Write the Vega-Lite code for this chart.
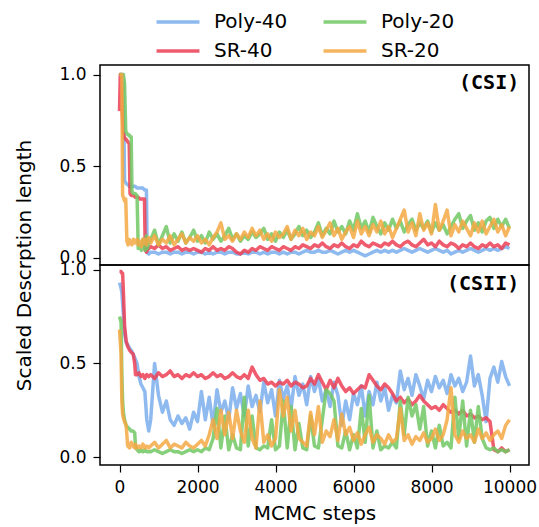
{
  "$schema": "https://vega.github.io/schema/vega-lite/v6.json",
  "padding": {"left": 14, "top": 5, "right": 5, "bottom": 0},
  "spacing": 0,
  "bounds": "flush",
  "config": {
    "font": "DejaVu Sans",
    "view": {"stroke": "black", "strokeWidth": 1.5},
    "axis": {"grid": false, "domain": false, "tickColor": "black", "tickWidth": 1.2, "tickSize": 7, "labelColor": "black", "titleColor": "black", "labelFontSize": 17, "titleFontSize": 20, "titleFontWeight": "normal", "labelPadding": 7, "labelFont": "DejaVu Sans", "titleFont": "DejaVu Sans"}
  },
  "datasets": {
    "csi": [
      {"step":0,"Poly-40":1.0,"Poly-20":1.0,"SR-40":0.8,"SR-20":1.0},
      {"step":20,"Poly-40":1.0,"Poly-20":1.0,"SR-40":1.0,"SR-20":1.0},
      {"step":60,"Poly-40":1.0,"Poly-20":1.0,"SR-40":0.85,"SR-20":1.0},
      {"step":80,"Poly-40":1.0,"Poly-20":1.0,"SR-40":0.75,"SR-20":0.34},
      {"step":100,"Poly-40":0.95,"Poly-20":1.0,"SR-40":0.68,"SR-20":0.33},
      {"step":130,"Poly-40":0.42,"Poly-20":0.95,"SR-40":0.65,"SR-20":0.31},
      {"step":160,"Poly-40":0.41,"Poly-20":0.69,"SR-40":0.65,"SR-20":0.32},
      {"step":190,"Poly-40":0.4,"Poly-20":0.68,"SR-40":0.64,"SR-20":0.09},
      {"step":220,"Poly-40":0.4,"Poly-20":0.67,"SR-40":0.63,"SR-20":0.07},
      {"step":250,"Poly-40":0.39,"Poly-20":0.67,"SR-40":0.62,"SR-20":0.1},
      {"step":270,"Poly-40":0.39,"Poly-20":0.66,"SR-40":0.35,"SR-20":0.08},
      {"step":300,"Poly-40":0.39,"Poly-20":0.66,"SR-40":0.34,"SR-20":0.09},
      {"step":320,"Poly-40":0.39,"Poly-20":0.36,"SR-40":0.34,"SR-20":0.07},
      {"step":360,"Poly-40":0.39,"Poly-20":0.35,"SR-40":0.34,"SR-20":0.1},
      {"step":400,"Poly-40":0.39,"Poly-20":0.35,"SR-40":0.33,"SR-20":0.08},
      {"step":450,"Poly-40":0.38,"Poly-20":0.34,"SR-40":0.33,"SR-20":0.1},
      {"step":480,"Poly-40":0.38,"Poly-20":0.05,"SR-40":0.33,"SR-20":0.07},
      {"step":520,"Poly-40":0.38,"Poly-20":0.07,"SR-40":0.32,"SR-20":0.09},
      {"step":560,"Poly-40":0.38,"Poly-20":0.04,"SR-40":0.32,"SR-20":0.06},
      {"step":600,"Poly-40":0.38,"Poly-20":0.1,"SR-40":0.32,"SR-20":0.1},
      {"step":640,"Poly-40":0.37,"Poly-20":0.06,"SR-40":0.32,"SR-20":0.08},
      {"step":660,"Poly-40":0.37,"Poly-20":0.04,"SR-40":0.04,"SR-20":0.1},
      {"step":690,"Poly-40":0.37,"Poly-20":0.12,"SR-40":0.03,"SR-20":0.07},
      {"step":710,"Poly-40":0.03,"Poly-20":0.05,"SR-40":0.04,"SR-20":0.09},
      {"step":750,"Poly-40":0.02,"Poly-20":0.08,"SR-40":0.05,"SR-20":0.11},
      {"step":800,"Poly-40":0.03,"Poly-20":0.1,"SR-40":0.06,"SR-20":0.08},
      {"step":900,"Poly-40":0.03,"Poly-20":0.15,"SR-40":0.05,"SR-20":0.12},
      {"step":1000,"Poly-40":0.02,"Poly-20":0.07,"SR-40":0.07,"SR-20":0.07},
      {"step":1100,"Poly-40":0.03,"Poly-20":0.12,"SR-40":0.05,"SR-20":0.1},
      {"step":1200,"Poly-40":0.03,"Poly-20":0.17,"SR-40":0.06,"SR-20":0.08},
      {"step":1300,"Poly-40":0.02,"Poly-20":0.08,"SR-40":0.04,"SR-20":0.12},
      {"step":1400,"Poly-40":0.03,"Poly-20":0.13,"SR-40":0.05,"SR-20":0.07},
      {"step":1500,"Poly-40":0.03,"Poly-20":0.09,"SR-40":0.06,"SR-20":0.1},
      {"step":1600,"Poly-40":0.02,"Poly-20":0.14,"SR-40":0.04,"SR-20":0.13},
      {"step":1700,"Poly-40":0.03,"Poly-20":0.08,"SR-40":0.05,"SR-20":0.08},
      {"step":1800,"Poly-40":0.03,"Poly-20":0.11,"SR-40":0.04,"SR-20":0.11},
      {"step":1900,"Poly-40":0.02,"Poly-20":0.15,"SR-40":0.05,"SR-20":0.09},
      {"step":2000,"Poly-40":0.03,"Poly-20":0.09,"SR-40":0.04,"SR-20":0.12},
      {"step":2100,"Poly-40":0.03,"Poly-20":0.12,"SR-40":0.03,"SR-20":0.08},
      {"step":2200,"Poly-40":0.02,"Poly-20":0.08,"SR-40":0.05,"SR-20":0.1},
      {"step":2300,"Poly-40":0.03,"Poly-20":0.14,"SR-40":0.04,"SR-20":0.07},
      {"step":2400,"Poly-40":0.02,"Poly-20":0.1,"SR-40":0.06,"SR-20":0.11},
      {"step":2500,"Poly-40":0.03,"Poly-20":0.13,"SR-40":0.04,"SR-20":0.14},
      {"step":2600,"Poly-40":0.03,"Poly-20":0.09,"SR-40":0.05,"SR-20":0.19},
      {"step":2700,"Poly-40":0.02,"Poly-20":0.12,"SR-40":0.04,"SR-20":0.1},
      {"step":2800,"Poly-40":0.03,"Poly-20":0.16,"SR-40":0.06,"SR-20":0.12},
      {"step":2900,"Poly-40":0.03,"Poly-20":0.1,"SR-40":0.05,"SR-20":0.09},
      {"step":3000,"Poly-40":0.02,"Poly-20":0.13,"SR-40":0.03,"SR-20":0.13},
      {"step":3100,"Poly-40":0.02,"Poly-20":0.09,"SR-40":0.02,"SR-20":0.1},
      {"step":3200,"Poly-40":0.03,"Poly-20":0.12,"SR-40":0.04,"SR-20":0.14},
      {"step":3300,"Poly-40":0.02,"Poly-20":0.1,"SR-40":0.03,"SR-20":0.11},
      {"step":3400,"Poly-40":0.03,"Poly-20":0.14,"SR-40":0.05,"SR-20":0.16},
      {"step":3500,"Poly-40":0.03,"Poly-20":0.11,"SR-40":0.04,"SR-20":0.12},
      {"step":3600,"Poly-40":0.02,"Poly-20":0.13,"SR-40":0.06,"SR-20":0.15},
      {"step":3700,"Poly-40":0.03,"Poly-20":0.16,"SR-40":0.05,"SR-20":0.1},
      {"step":3800,"Poly-40":0.02,"Poly-20":0.1,"SR-40":0.04,"SR-20":0.13},
      {"step":3900,"Poly-40":0.03,"Poly-20":0.13,"SR-40":0.06,"SR-20":0.09},
      {"step":4000,"Poly-40":0.03,"Poly-20":0.09,"SR-40":0.05,"SR-20":0.14},
      {"step":4100,"Poly-40":0.02,"Poly-20":0.14,"SR-40":0.04,"SR-20":0.11},
      {"step":4200,"Poly-40":0.03,"Poly-20":0.11,"SR-40":0.06,"SR-20":0.13},
      {"step":4300,"Poly-40":0.02,"Poly-20":0.15,"SR-40":0.05,"SR-20":0.17},
      {"step":4400,"Poly-40":0.03,"Poly-20":0.1,"SR-40":0.04,"SR-20":0.1},
      {"step":4500,"Poly-40":0.03,"Poly-20":0.13,"SR-40":0.06,"SR-20":0.15},
      {"step":4600,"Poly-40":0.02,"Poly-20":0.17,"SR-40":0.05,"SR-20":0.12},
      {"step":4700,"Poly-40":0.03,"Poly-20":0.12,"SR-40":0.07,"SR-20":0.16},
      {"step":4800,"Poly-40":0.04,"Poly-20":0.15,"SR-40":0.06,"SR-20":0.1},
      {"step":4900,"Poly-40":0.03,"Poly-20":0.11,"SR-40":0.05,"SR-20":0.14},
      {"step":5000,"Poly-40":0.03,"Poly-20":0.14,"SR-40":0.07,"SR-20":0.12},
      {"step":5100,"Poly-40":0.04,"Poly-20":0.19,"SR-40":0.06,"SR-20":0.17},
      {"step":5200,"Poly-40":0.03,"Poly-20":0.12,"SR-40":0.08,"SR-20":0.11},
      {"step":5300,"Poly-40":0.03,"Poly-20":0.16,"SR-40":0.06,"SR-20":0.15},
      {"step":5400,"Poly-40":0.04,"Poly-20":0.13,"SR-40":0.05,"SR-20":0.19},
      {"step":5500,"Poly-40":0.03,"Poly-20":0.2,"SR-40":0.07,"SR-20":0.12},
      {"step":5600,"Poly-40":0.02,"Poly-20":0.14,"SR-40":0.06,"SR-20":0.16},
      {"step":5700,"Poly-40":0.03,"Poly-20":0.17,"SR-40":0.08,"SR-20":0.1},
      {"step":5800,"Poly-40":0.04,"Poly-20":0.13,"SR-40":0.06,"SR-20":0.14},
      {"step":5900,"Poly-40":0.03,"Poly-20":0.2,"SR-40":0.05,"SR-20":0.17},
      {"step":6000,"Poly-40":0.04,"Poly-20":0.15,"SR-40":0.07,"SR-20":0.11},
      {"step":6100,"Poly-40":0.03,"Poly-20":0.24,"SR-40":0.06,"SR-20":0.2},
      {"step":6200,"Poly-40":0.02,"Poly-20":0.16,"SR-40":0.09,"SR-20":0.13},
      {"step":6300,"Poly-40":0.01,"Poly-20":0.2,"SR-40":0.07,"SR-20":0.17},
      {"step":6400,"Poly-40":0.02,"Poly-20":0.14,"SR-40":0.06,"SR-20":0.12},
      {"step":6500,"Poly-40":0.03,"Poly-20":0.22,"SR-40":0.08,"SR-20":0.18},
      {"step":6600,"Poly-40":0.04,"Poly-20":0.17,"SR-40":0.07,"SR-20":0.14},
      {"step":6700,"Poly-40":0.03,"Poly-20":0.13,"SR-40":0.06,"SR-20":0.2},
      {"step":6800,"Poly-40":0.04,"Poly-20":0.19,"SR-40":0.08,"SR-20":0.13},
      {"step":6900,"Poly-40":0.03,"Poly-20":0.15,"SR-40":0.07,"SR-20":0.17},
      {"step":7000,"Poly-40":0.04,"Poly-20":0.21,"SR-40":0.09,"SR-20":0.11},
      {"step":7100,"Poly-40":0.03,"Poly-20":0.16,"SR-40":0.07,"SR-20":0.16},
      {"step":7200,"Poly-40":0.04,"Poly-20":0.2,"SR-40":0.06,"SR-20":0.21},
      {"step":7300,"Poly-40":0.05,"Poly-20":0.14,"SR-40":0.08,"SR-20":0.26},
      {"step":7400,"Poly-40":0.04,"Poly-20":0.18,"SR-40":0.09,"SR-20":0.14},
      {"step":7500,"Poly-40":0.03,"Poly-20":0.21,"SR-40":0.07,"SR-20":0.19},
      {"step":7600,"Poly-40":0.04,"Poly-20":0.15,"SR-40":0.06,"SR-20":0.12},
      {"step":7700,"Poly-40":0.05,"Poly-20":0.19,"SR-40":0.08,"SR-20":0.24},
      {"step":7800,"Poly-40":0.04,"Poly-20":0.16,"SR-40":0.1,"SR-20":0.15},
      {"step":7900,"Poly-40":0.03,"Poly-20":0.2,"SR-40":0.07,"SR-20":0.19},
      {"step":8000,"Poly-40":0.04,"Poly-20":0.14,"SR-40":0.08,"SR-20":0.13},
      {"step":8100,"Poly-40":0.05,"Poly-20":0.19,"SR-40":0.06,"SR-20":0.29},
      {"step":8200,"Poly-40":0.04,"Poly-20":0.15,"SR-40":0.09,"SR-20":0.15},
      {"step":8300,"Poly-40":0.03,"Poly-20":0.18,"SR-40":0.07,"SR-20":0.2},
      {"step":8400,"Poly-40":0.04,"Poly-20":0.13,"SR-40":0.06,"SR-20":0.26},
      {"step":8500,"Poly-40":0.02,"Poly-20":0.17,"SR-40":0.08,"SR-20":0.12},
      {"step":8600,"Poly-40":0.03,"Poly-20":0.21,"SR-40":0.07,"SR-20":0.18},
      {"step":8700,"Poly-40":0.04,"Poly-20":0.24,"SR-40":0.05,"SR-20":0.14},
      {"step":8800,"Poly-40":0.03,"Poly-20":0.16,"SR-40":0.07,"SR-20":0.2},
      {"step":8900,"Poly-40":0.04,"Poly-20":0.2,"SR-40":0.06,"SR-20":0.16},
      {"step":9000,"Poly-40":0.05,"Poly-20":0.23,"SR-40":0.08,"SR-20":0.12},
      {"step":9100,"Poly-40":0.04,"Poly-20":0.15,"SR-40":0.06,"SR-20":0.19},
      {"step":9200,"Poly-40":0.03,"Poly-20":0.19,"SR-40":0.05,"SR-20":0.14},
      {"step":9300,"Poly-40":0.04,"Poly-20":0.14,"SR-40":0.07,"SR-20":0.2},
      {"step":9400,"Poly-40":0.05,"Poly-20":0.2,"SR-40":0.06,"SR-20":0.13},
      {"step":9500,"Poly-40":0.04,"Poly-20":0.22,"SR-40":0.08,"SR-20":0.17},
      {"step":9600,"Poly-40":0.05,"Poly-20":0.16,"SR-40":0.06,"SR-20":0.21},
      {"step":9700,"Poly-40":0.04,"Poly-20":0.21,"SR-40":0.07,"SR-20":0.14},
      {"step":9800,"Poly-40":0.05,"Poly-20":0.17,"SR-40":0.05,"SR-20":0.18},
      {"step":9900,"Poly-40":0.06,"Poly-20":0.21,"SR-40":0.08,"SR-20":0.12},
      {"step":10000,"Poly-40":0.05,"Poly-20":0.16,"SR-40":0.07,"SR-20":0.17}
    ],
    "csii": [
      {"step":0,"Poly-40":0.93,"Poly-20":0.75,"SR-40":0.99,"SR-20":0.68},
      {"step":40,"Poly-40":0.9,"Poly-20":0.72,"SR-40":0.99,"SR-20":0.55},
      {"step":60,"Poly-40":0.88,"Poly-20":0.45,"SR-40":0.98,"SR-20":0.3},
      {"step":80,"Poly-40":0.82,"Poly-20":0.3,"SR-40":0.98,"SR-20":0.23},
      {"step":100,"Poly-40":0.76,"Poly-20":0.24,"SR-40":0.88,"SR-20":0.21},
      {"step":130,"Poly-40":0.66,"Poly-20":0.2,"SR-40":0.7,"SR-20":0.19},
      {"step":170,"Poly-40":0.61,"Poly-20":0.17,"SR-40":0.62,"SR-20":0.17},
      {"step":210,"Poly-40":0.6,"Poly-20":0.16,"SR-40":0.59,"SR-20":0.06},
      {"step":260,"Poly-40":0.58,"Poly-20":0.15,"SR-40":0.57,"SR-20":0.05},
      {"step":300,"Poly-40":0.57,"Poly-20":0.14,"SR-40":0.56,"SR-20":0.08},
      {"step":350,"Poly-40":0.55,"Poly-20":0.14,"SR-40":0.55,"SR-20":0.06},
      {"step":390,"Poly-40":0.53,"Poly-20":0.13,"SR-40":0.5,"SR-20":0.05},
      {"step":410,"Poly-40":0.52,"Poly-20":0.06,"SR-40":0.44,"SR-20":0.07},
      {"step":450,"Poly-40":0.5,"Poly-20":0.04,"SR-40":0.44,"SR-20":0.05},
      {"step":500,"Poly-40":0.43,"Poly-20":0.03,"SR-40":0.45,"SR-20":0.06},
      {"step":550,"Poly-40":0.39,"Poly-20":0.04,"SR-40":0.43,"SR-20":0.05},
      {"step":600,"Poly-40":0.37,"Poly-20":0.03,"SR-40":0.44,"SR-20":0.07},
      {"step":650,"Poly-40":0.35,"Poly-20":0.04,"SR-40":0.42,"SR-20":0.05},
      {"step":700,"Poly-40":0.2,"Poly-20":0.03,"SR-40":0.44,"SR-20":0.06},
      {"step":750,"Poly-40":0.14,"Poly-20":0.03,"SR-40":0.43,"SR-20":0.05},
      {"step":800,"Poly-40":0.2,"Poly-20":0.03,"SR-40":0.44,"SR-20":0.06},
      {"step":900,"Poly-40":0.5,"Poly-20":0.04,"SR-40":0.42,"SR-20":0.08},
      {"step":1000,"Poly-40":0.33,"Poly-20":0.03,"SR-40":0.45,"SR-20":0.05},
      {"step":1100,"Poly-40":0.24,"Poly-20":0.02,"SR-40":0.43,"SR-20":0.07},
      {"step":1200,"Poly-40":0.3,"Poly-20":0.03,"SR-40":0.44,"SR-20":0.09},
      {"step":1300,"Poly-40":0.2,"Poly-20":0.04,"SR-40":0.46,"SR-20":0.05},
      {"step":1400,"Poly-40":0.17,"Poly-20":0.03,"SR-40":0.43,"SR-20":0.07},
      {"step":1500,"Poly-40":0.22,"Poly-20":0.03,"SR-40":0.44,"SR-20":0.06},
      {"step":1600,"Poly-40":0.18,"Poly-20":0.02,"SR-40":0.42,"SR-20":0.05},
      {"step":1700,"Poly-40":0.21,"Poly-20":0.03,"SR-40":0.44,"SR-20":0.08},
      {"step":1800,"Poly-40":0.15,"Poly-20":0.04,"SR-40":0.43,"SR-20":0.06},
      {"step":1900,"Poly-40":0.24,"Poly-20":0.03,"SR-40":0.45,"SR-20":0.05},
      {"step":2000,"Poly-40":0.19,"Poly-20":0.04,"SR-40":0.43,"SR-20":0.07},
      {"step":2100,"Poly-40":0.35,"Poly-20":0.03,"SR-40":0.44,"SR-20":0.09},
      {"step":2200,"Poly-40":0.2,"Poly-20":0.05,"SR-40":0.42,"SR-20":0.06},
      {"step":2300,"Poly-40":0.32,"Poly-20":0.04,"SR-40":0.43,"SR-20":0.12},
      {"step":2400,"Poly-40":0.17,"Poly-20":0.1,"SR-40":0.45,"SR-20":0.2},
      {"step":2500,"Poly-40":0.36,"Poly-20":0.26,"SR-40":0.43,"SR-20":0.1},
      {"step":2600,"Poly-40":0.24,"Poly-20":0.05,"SR-40":0.44,"SR-20":0.25},
      {"step":2700,"Poly-40":0.3,"Poly-20":0.22,"SR-40":0.42,"SR-20":0.12},
      {"step":2800,"Poly-40":0.2,"Poly-20":0.04,"SR-40":0.43,"SR-20":0.24},
      {"step":2900,"Poly-40":0.37,"Poly-20":0.12,"SR-40":0.45,"SR-20":0.1},
      {"step":3000,"Poly-40":0.26,"Poly-20":0.05,"SR-40":0.43,"SR-20":0.25},
      {"step":3100,"Poly-40":0.34,"Poly-20":0.04,"SR-40":0.42,"SR-20":0.14},
      {"step":3200,"Poly-40":0.22,"Poly-20":0.32,"SR-40":0.44,"SR-20":0.08},
      {"step":3300,"Poly-40":0.38,"Poly-20":0.06,"SR-40":0.42,"SR-20":0.25},
      {"step":3400,"Poly-40":0.27,"Poly-20":0.22,"SR-40":0.48,"SR-20":0.1},
      {"step":3500,"Poly-40":0.33,"Poly-20":0.05,"SR-40":0.44,"SR-20":0.05},
      {"step":3600,"Poly-40":0.24,"Poly-20":0.04,"SR-40":0.41,"SR-20":0.3},
      {"step":3700,"Poly-40":0.4,"Poly-20":0.06,"SR-40":0.42,"SR-20":0.08},
      {"step":3800,"Poly-40":0.29,"Poly-20":0.05,"SR-40":0.39,"SR-20":0.12},
      {"step":3900,"Poly-40":0.36,"Poly-20":0.2,"SR-40":0.4,"SR-20":0.06},
      {"step":4000,"Poly-40":0.22,"Poly-20":0.04,"SR-40":0.38,"SR-20":0.1},
      {"step":4100,"Poly-40":0.41,"Poly-20":0.06,"SR-40":0.4,"SR-20":0.36},
      {"step":4200,"Poly-40":0.31,"Poly-20":0.3,"SR-40":0.39,"SR-20":0.22},
      {"step":4300,"Poly-40":0.38,"Poly-20":0.05,"SR-40":0.41,"SR-20":0.32},
      {"step":4400,"Poly-40":0.26,"Poly-20":0.27,"SR-40":0.38,"SR-20":0.14},
      {"step":4500,"Poly-40":0.43,"Poly-20":0.04,"SR-40":0.4,"SR-20":0.25},
      {"step":4600,"Poly-40":0.33,"Poly-20":0.18,"SR-40":0.39,"SR-20":0.1},
      {"step":4700,"Poly-40":0.39,"Poly-20":0.05,"SR-40":0.37,"SR-20":0.08},
      {"step":4800,"Poly-40":0.28,"Poly-20":0.04,"SR-40":0.38,"SR-20":0.06},
      {"step":4900,"Poly-40":0.43,"Poly-20":0.22,"SR-40":0.42,"SR-20":0.24},
      {"step":5000,"Poly-40":0.35,"Poly-20":0.06,"SR-40":0.39,"SR-20":0.12},
      {"step":5100,"Poly-40":0.42,"Poly-20":0.05,"SR-40":0.44,"SR-20":0.27},
      {"step":5200,"Poly-40":0.3,"Poly-20":0.2,"SR-40":0.4,"SR-20":0.08},
      {"step":5300,"Poly-40":0.36,"Poly-20":0.36,"SR-40":0.36,"SR-20":0.14},
      {"step":5400,"Poly-40":0.27,"Poly-20":0.34,"SR-40":0.41,"SR-20":0.11},
      {"step":5500,"Poly-40":0.4,"Poly-20":0.3,"SR-40":0.37,"SR-20":0.2},
      {"step":5600,"Poly-40":0.33,"Poly-20":0.06,"SR-40":0.42,"SR-20":0.09},
      {"step":5700,"Poly-40":0.17,"Poly-20":0.05,"SR-40":0.38,"SR-20":0.23},
      {"step":5800,"Poly-40":0.3,"Poly-20":0.14,"SR-40":0.35,"SR-20":0.12},
      {"step":5900,"Poly-40":0.2,"Poly-20":0.04,"SR-40":0.37,"SR-20":0.16},
      {"step":6000,"Poly-40":0.34,"Poly-20":0.12,"SR-40":0.34,"SR-20":0.09},
      {"step":6100,"Poly-40":0.28,"Poly-20":0.05,"SR-40":0.36,"SR-20":0.13},
      {"step":6200,"Poly-40":0.38,"Poly-20":0.26,"SR-40":0.38,"SR-20":0.07},
      {"step":6300,"Poly-40":0.22,"Poly-20":0.08,"SR-40":0.37,"SR-20":0.12},
      {"step":6400,"Poly-40":0.35,"Poly-20":0.33,"SR-40":0.44,"SR-20":0.16},
      {"step":6500,"Poly-40":0.28,"Poly-20":0.05,"SR-40":0.41,"SR-20":0.08},
      {"step":6600,"Poly-40":0.4,"Poly-20":0.14,"SR-40":0.38,"SR-20":0.12},
      {"step":6700,"Poly-40":0.3,"Poly-20":0.04,"SR-40":0.36,"SR-20":0.1},
      {"step":6800,"Poly-40":0.37,"Poly-20":0.06,"SR-40":0.39,"SR-20":0.07},
      {"step":6900,"Poly-40":0.25,"Poly-20":0.05,"SR-40":0.37,"SR-20":0.12},
      {"step":7000,"Poly-40":0.33,"Poly-20":0.08,"SR-40":0.34,"SR-20":0.08},
      {"step":7100,"Poly-40":0.29,"Poly-20":0.05,"SR-40":0.3,"SR-20":0.1},
      {"step":7200,"Poly-40":0.46,"Poly-20":0.3,"SR-40":0.32,"SR-20":0.26},
      {"step":7300,"Poly-40":0.36,"Poly-20":0.12,"SR-40":0.29,"SR-20":0.09},
      {"step":7400,"Poly-40":0.42,"Poly-20":0.32,"SR-40":0.31,"SR-20":0.12},
      {"step":7500,"Poly-40":0.33,"Poly-20":0.22,"SR-40":0.28,"SR-20":0.07},
      {"step":7600,"Poly-40":0.44,"Poly-20":0.28,"SR-40":0.3,"SR-20":0.11},
      {"step":7700,"Poly-40":0.38,"Poly-20":0.15,"SR-40":0.33,"SR-20":0.09},
      {"step":7800,"Poly-40":0.31,"Poly-20":0.27,"SR-40":0.3,"SR-20":0.13},
      {"step":7900,"Poly-40":0.41,"Poly-20":0.06,"SR-40":0.28,"SR-20":0.08},
      {"step":8000,"Poly-40":0.35,"Poly-20":0.14,"SR-40":0.26,"SR-20":0.1},
      {"step":8100,"Poly-40":0.43,"Poly-20":0.05,"SR-40":0.27,"SR-20":0.15},
      {"step":8200,"Poly-40":0.37,"Poly-20":0.17,"SR-40":0.25,"SR-20":0.09},
      {"step":8300,"Poly-40":0.41,"Poly-20":0.06,"SR-40":0.28,"SR-20":0.12},
      {"step":8400,"Poly-40":0.34,"Poly-20":0.08,"SR-40":0.26,"SR-20":0.2},
      {"step":8500,"Poly-40":0.44,"Poly-20":0.05,"SR-40":0.24,"SR-20":0.37},
      {"step":8600,"Poly-40":0.38,"Poly-20":0.32,"SR-40":0.25,"SR-20":0.12},
      {"step":8700,"Poly-40":0.42,"Poly-20":0.1,"SR-40":0.23,"SR-20":0.08},
      {"step":8800,"Poly-40":0.35,"Poly-20":0.3,"SR-40":0.25,"SR-20":0.14},
      {"step":8900,"Poly-40":0.4,"Poly-20":0.06,"SR-40":0.22,"SR-20":0.1},
      {"step":9000,"Poly-40":0.54,"Poly-20":0.25,"SR-40":0.23,"SR-20":0.12},
      {"step":9100,"Poly-40":0.38,"Poly-20":0.08,"SR-40":0.21,"SR-20":0.08},
      {"step":9200,"Poly-40":0.44,"Poly-20":0.27,"SR-40":0.22,"SR-20":0.15},
      {"step":9300,"Poly-40":0.33,"Poly-20":0.1,"SR-40":0.2,"SR-20":0.1},
      {"step":9400,"Poly-40":0.19,"Poly-20":0.05,"SR-40":0.21,"SR-20":0.13},
      {"step":9500,"Poly-40":0.42,"Poly-20":0.04,"SR-40":0.19,"SR-20":0.09},
      {"step":9600,"Poly-40":0.48,"Poly-20":0.05,"SR-40":0.04,"SR-20":0.12},
      {"step":9700,"Poly-40":0.4,"Poly-20":0.03,"SR-40":0.03,"SR-20":0.14},
      {"step":9800,"Poly-40":0.51,"Poly-20":0.04,"SR-40":0.05,"SR-20":0.1},
      {"step":9900,"Poly-40":0.43,"Poly-20":0.03,"SR-40":0.03,"SR-20":0.17},
      {"step":10000,"Poly-40":0.38,"Poly-20":0.04,"SR-40":0.04,"SR-20":0.2}
    ]
  },
  "vconcat": [
    {
      "width": 429,
      "height": 200,
      "layer": [
        {
          "data": {"name": "csi"},
          "transform": [{"fold": ["Poly-40", "SR-40", "Poly-20", "SR-20"], "as": ["series", "value"]}],
          "mark": {"type": "line", "strokeWidth": 3.5, "opacity": 0.85, "strokeJoin": "round", "clip": true},
          "encoding": {
            "x": {"field": "step", "type": "quantitative", "scale": {"domain": [-500, 10500], "nice": false, "zero": false}, "axis": {"title": null, "labels": false, "ticks": false}},
            "y": {"field": "value", "type": "quantitative", "scale": {"domain": [-0.04, 1.052], "nice": false, "zero": false}, "axis": {"values": [0, 0.5, 1], "format": ".1f", "title": "Scaled Descrption length", "titleY": 200, "titlePadding": 24}},
            "color": {
              "field": "series", "type": "nominal",
              "scale": {"domain": ["Poly-40", "SR-40", "Poly-20", "SR-20"], "range": ["#7aaeec", "#ec3f55", "#72c864", "#f5a843"]},
              "legend": {"orient": "none", "legendX": 61, "legendY": -60, "padding": 0, "columns": 2, "title": null, "symbolType": "M-1.43,0H1.43", "symbolSize": 900, "symbolStrokeWidth": 3.5, "symbolOpacity": 0.85, "labelFontSize": 20, "labelFont": "DejaVu Sans", "labelColor": "black", "labelOffset": 19, "columnPadding": 28, "rowPadding": 2}
            }
          }
        },
        {
          "data": {"values": [{"label": "(CSI)"}]},
          "mark": {"type": "text", "font": "DejaVu Sans Mono", "fontWeight": "bold", "fontSize": 20, "align": "right", "baseline": "middle", "color": "black"},
          "encoding": {"x": {"datum": 10250}, "y": {"datum": 0.955}, "text": {"field": "label"}}
        }
      ]
    },
    {
      "width": 429,
      "height": 200,
      "layer": [
        {
          "data": {"name": "csii"},
          "transform": [{"fold": ["Poly-40", "SR-40", "Poly-20", "SR-20"], "as": ["series", "value"]}],
          "mark": {"type": "line", "strokeWidth": 3.5, "opacity": 0.85, "strokeJoin": "round", "clip": true},
          "encoding": {
            "x": {"field": "step", "type": "quantitative", "scale": {"domain": [-500, 10500], "nice": false, "zero": false}, "axis": {"title": "MCMC steps", "values": [0, 2000, 4000, 6000, 8000, 10000], "format": "d", "titlePadding": 8}},
            "y": {"field": "value", "type": "quantitative", "scale": {"domain": [-0.041, 1.024], "nice": false, "zero": false}, "axis": {"values": [0, 0.5, 1], "format": ".1f", "title": null}},
            "color": {"field": "series", "type": "nominal", "scale": {"domain": ["Poly-40", "SR-40", "Poly-20", "SR-20"], "range": ["#7aaeec", "#ec3f55", "#72c864", "#f5a843"]}}
          }
        },
        {
          "data": {"values": [{"label": "(CSII)"}]},
          "mark": {"type": "text", "font": "DejaVu Sans Mono", "fontWeight": "bold", "fontSize": 20, "align": "right", "baseline": "middle", "color": "black"},
          "encoding": {"x": {"datum": 10250}, "y": {"datum": 0.924}, "text": {"field": "label"}}
        }
      ]
    }
  ]
}
